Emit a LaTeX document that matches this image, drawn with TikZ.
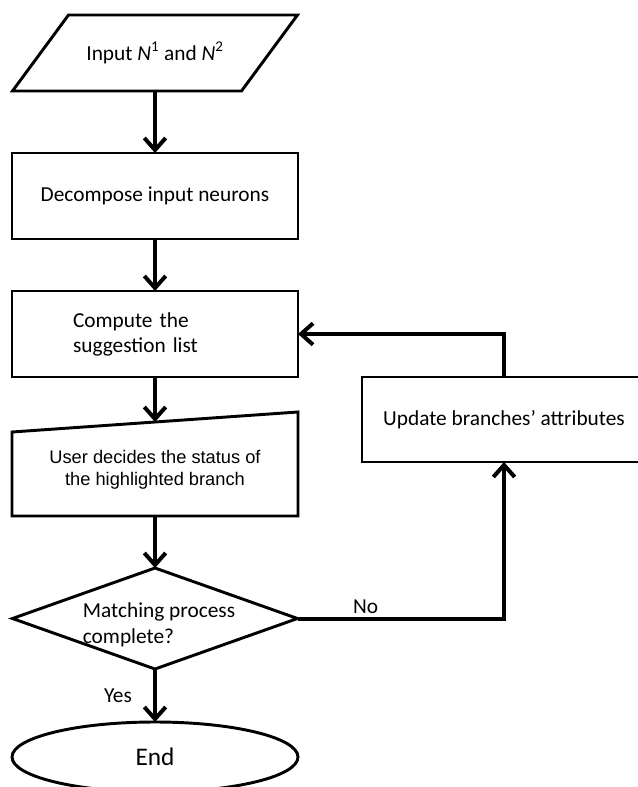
\documentclass[tikz,border=0pt]{standalone}
\usepackage{fontspec}
\setmainfont{Carlito}
\newfontfamily\arialfont{Liberation Sans}
\usetikzlibrary{positioning, arrows.meta}
\usetikzlibrary{shapes.geometric,calc}

\begin{document}
\begin{tikzpicture}[x=0.75pt,y=-0.75pt,
		font=\fontsize{16}{18.75}\selectfont,
		every node/.style={outer sep=0pt},
		shape line/.style={line width=2.2pt},
		box/.style={rectangle,draw,shape line,minimum width=214.5pt,minimum height=64.5pt},
		flow/.style={line width=3pt,-{Straight Barb[length=9pt,width=16pt]}},
		line join=miter]
		\useasboundingbox (0,0) rectangle (637,787);
		% input, parallelogram drawn round an empty node
		\node[minimum width=213.75pt,minimum height=57pt] (in) at (155,53)
		{Input \textit{N}\textsuperscript{1} and \textit{N}\textsuperscript{2}};
		\draw[shape line] ([xshift=42pt]in.north west) -- (in.north east)
		-- ([xshift=-42pt]in.south east) -- (in.south west) -- cycle;
		\node[box] (decomp) at (155,196) {Decompose input neurons};
		\node[box,text width=123pt,align=left] (compute) at (155,334) {Compute the\\suggestion list};
		% manual input
		\node[minimum width=214.5pt,minimum height=78pt] (user) at (155,464) {};
		\draw[shape line] ([yshift=-15pt]user.north west) -- (user.north east)
		-- (user.south east) -- (user.south west) -- cycle;
		\node[align=center,font=\arialfont\fontsize{13.7}{16.5}\selectfont] (user-text)
		at ([yshift=-4pt]user.center) {User decides the status of\\the highlighted branch};
		\coordinate (user-top) at ($(user.north west)!0.5!(user.north east)+(0,-7.5pt)$);
		% decision
		\node[diamond,draw,shape line,aspect=2.82,inner sep=0pt,minimum width=213.75pt,
		minimum height=75.75pt] (match) at (155,618.5) {};
		\node[align=left,font=\fontsize{16}{19.5}\selectfont] (match-text)
		at ([xshift=3pt,yshift=-4.5pt]match.center) {Matching process\\complete?};
		\node[ellipse,draw,shape line,minimum width=214.5pt,minimum height=52.5pt,
		font=\fontsize{19}{22}\selectfont] (end) at (155,757) {End};
		\node[box,minimum width=213pt,minimum height=63.75pt] (update) at (504,419.5)
		{Update branches’ attributes};
		% connectors
		\draw[flow] (in.south) -- (decomp.north);
		\draw[flow] (decomp) -- (compute);
		\draw[flow] (compute) -- (user-top);
		\draw[flow] (user.south) -- (match.north);
		\draw[flow] (match) -- node[left=14pt] {Yes} (end);
		\draw[flow] (match.east) -- node[above,pos=0.33] {No} (match.east -| update.south)
		-- (update.south);
		\draw[flow] (update.north) |- (compute.east);
\end{tikzpicture}
\end{document}
